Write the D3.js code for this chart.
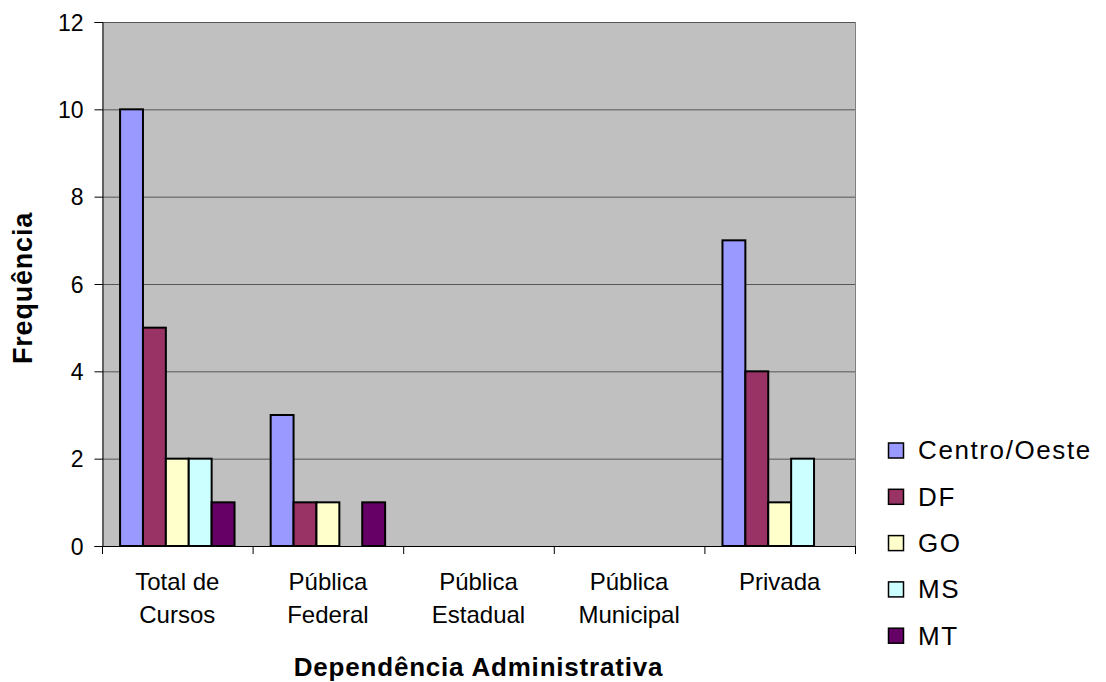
<!DOCTYPE html>
<html><head><meta charset="utf-8">
<script src="https://cdn.jsdelivr.net/npm/d3@7"></script>
<style>body{margin:0;background:#fff;} text{font-family:"Liberation Sans",Arial,sans-serif;}</style>
</head><body>
<svg id="c" width="1106" height="682"></svg>
<script>
const categories = [["Total de","Cursos"],["Pública","Federal"],["Pública","Estadual"],["Pública","Municipal"],["Privada"]];
const series = ["Centro/Oeste","DF","GO","MS","MT"];
const colors = ["#9999FF","#993366","#FFFFCC","#CCFFFF","#660066"];
const centroOeste = [10,3,0,0,7];
const df = [5,1,0,0,4];
const go = [2,1,0,0,1];
const ms = [2,0,0,0,2];
const mt = [1,1,0,0,0];
const values = [centroOeste, df, go, ms, mt];
const yTicks = [0,2,4,6,8,10,12];

const svg = d3.select("#c");
const L=102, R=855, T=22, B=546;
const x0 = d3.scaleBand().domain(d3.range(categories.length)).range([L,R]).paddingInner(0.24).paddingOuter(0.12);
const x1 = d3.scaleBand().domain(d3.range(series.length)).range([0,x0.bandwidth()]);
const y = d3.scaleLinear().domain([0,12]).range([B,T]);
const xCat = d3.scaleBand().domain(d3.range(categories.length)).range([L,R]);

svg.append("rect").attr("x",L).attr("y",T).attr("width",R-L).attr("height",B-T).attr("fill","#C0C0C0");
svg.append("g").selectAll("line").data(yTicks.filter(d=>d>0)).join("line")
  .attr("x1",L).attr("x2",R).attr("y1",d=>y(d)+0.5).attr("y2",d=>y(d)+0.5).attr("stroke","#555").attr("stroke-width",1);
svg.append("line").attr("x1",R+0.5).attr("x2",R+0.5).attr("y1",T).attr("y2",B).attr("stroke","#808080");

// bars
series.forEach((s,si)=>{
  svg.append("g").selectAll("rect").data(values[si].map((v,ci)=>({v,ci}))).join("rect")
    .filter(d=>d.v>0)
    .attr("x",d=>x0(d.ci)+x1(si)).attr("width",x1.bandwidth())
    .attr("y",d=>y(d.v)).attr("height",d=>y(0)-y(d.v))
    .attr("fill",colors[si]).attr("stroke","#000").attr("stroke-width",2);
});

// y axis
const ya = svg.append("g").attr("transform",`translate(${L+0.5},0)`)
  .call(d3.axisLeft(y).tickValues(yTicks).tickSize(8).tickPadding(11));
ya.select(".domain").attr("stroke","#000");
ya.selectAll("line").attr("stroke","#000");
ya.selectAll("text").attr("font-size","23px").attr("fill","#000").attr("dy","0.36em")
  .style("font-family","Liberation Sans, Arial, sans-serif");

// x axis
svg.append("line").attr("x1",L).attr("x2",R+1).attr("y1",B+0.5).attr("y2",B+0.5).attr("stroke","#000");
svg.append("g").selectAll("line").data(d3.range(categories.length+1)).join("line")
  .attr("x1",d=>(d<categories.length?xCat(d):R)+0.5).attr("x2",d=>(d<categories.length?xCat(d):R)+0.5)
  .attr("y1",B).attr("y2",B+8).attr("stroke","#000");
const cl = svg.append("g").selectAll("text").data(categories).join("text")
  .attr("x",(d,i)=>xCat(i)+xCat.bandwidth()/2).attr("y",590)
  .attr("text-anchor","middle").attr("font-size","24px").attr("fill","#000");
cl.selectAll("tspan").data(d=>d).join("tspan")
  .attr("x",function(){return this.parentNode.getAttribute("x");})
  .attr("dy",(d,i)=>i===0?0:33).text(d=>d);

// axis titles
svg.append("text").attr("x",(L+R)/2).attr("y",676).attr("text-anchor","middle")
  .attr("font-size","26px").attr("font-weight","bold").attr("letter-spacing","0.8px").text("Dependência Administrativa");
svg.append("text").attr("transform",`translate(32,${288}) rotate(-90)`).attr("text-anchor","middle")
  .attr("font-size","27px").attr("font-weight","bold").attr("letter-spacing","0.8px").text("Frequência");

// legend
const lg = svg.append("g").selectAll("g").data(series).join("g")
  .attr("transform",(d,i)=>`translate(888,${450+i*46.3})`);
lg.append("rect").attr("x",0.5).attr("y",-7).attr("width",15).attr("height",15)
  .attr("fill",(d,i)=>colors[i]).attr("stroke","#000").attr("stroke-width",1.5);
lg.append("text").attr("x",30).attr("y",0).attr("dy","0.36em").attr("font-size","26px").attr("letter-spacing","1.6px").text(d=>d);
</script>
</body></html>
